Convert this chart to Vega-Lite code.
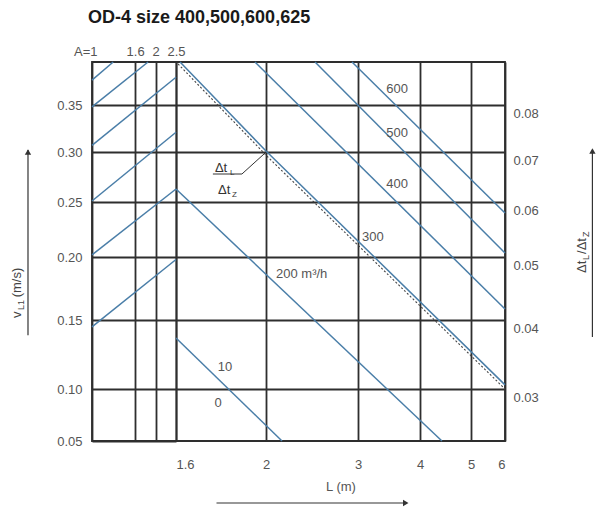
{
  "$schema": "https://vega.github.io/schema/vega-lite/v6.json",
  "width": 413,
  "height": 379,
  "autosize": {"type": "none"},
  "padding": {"left": 92, "top": 62, "right": 92, "bottom": 67},
  "background": "white",
  "title": {"text": "OD-4 size  400,500,600,625", "anchor": "start", "frame": "group", "fontSize": 18, "fontWeight": "bold", "color": "#1a1a1a", "offset": 18, "dx": -4},
  "config": {
    "font": "Liberation Sans, Arial, sans-serif",
    "view": {"stroke": "#2e2e2e", "strokeWidth": 1.8},
    "axis": {"labelColor": "#555555", "labelFontSize": 13, "gridColor": "#2e2e2e", "gridWidth": 1.8, "gridOpacity": 1, "ticks": false, "tickSize": 0, "domain": false, "titleColor": "#555555", "titleFontWeight": "normal", "titleFontSize": 13}
  },
  "datasets": {
    "aLines": [
      {"s": 1, "A": 1, "v": 0.376}, {"s": 1, "A": 1.26, "v": 0.395},
      {"s": 2, "A": 1, "v": 0.348}, {"s": 2, "A": 1.843, "v": 0.395},
      {"s": 3, "A": 1, "v": 0.307}, {"s": 3, "A": 2.5, "v": 0.379},
      {"s": 4, "A": 1, "v": 0.251}, {"s": 4, "A": 2.5, "v": 0.321},
      {"s": 5, "A": 1, "v": 0.202}, {"s": 5, "A": 2.5, "v": 0.263},
      {"s": 6, "A": 1, "v": 0.145}, {"s": 6, "A": 2.5, "v": 0.198}
    ],
    "leftTitle": [
      {"t": "v", "A": 0.461, "v": 0.1516, "fs": 13},
      {"t": "L1", "A": 0.476, "v": 0.158, "fs": 9},
      {"t": "(m/s)", "A": 0.461, "v": 0.168, "fs": 13}
    ],
    "leftArrow": [{"A": 0.4975, "v": 0.139, "v2": 0.302}],
    "leftHead": [{"A": 0.4975, "v": 0.300}],
    "flowLines": [
      {"s": "0", "L": 1.6, "v": 0.137}, {"s": "0", "L": 2.174, "v": 0.05},
      {"s": "200", "L": 1.6, "v": 0.263}, {"s": "200", "L": 4.43, "v": 0.05},
      {"s": "300", "L": 1.618, "v": 0.395}, {"s": "300", "L": 2.0, "v": 0.301}, {"s": "300", "L": 6, "v": 0.103},
      {"s": "400", "L": 1.951, "v": 0.395}, {"s": "400", "L": 6, "v": 0.1587},
      {"s": "500", "L": 2.533, "v": 0.395}, {"s": "500", "L": 6, "v": 0.2036},
      {"s": "600", "L": 2.935, "v": 0.395}, {"s": "600", "L": 6, "v": 0.24}
    ],
    "ratioLine": [
      {"L": 1.609, "v": 0.393}, {"L": 2.02, "v": 0.295}, {"L": 6, "v": 0.10}
    ],
    "leader": [
      {"L": 1.764, "v": 0.278}, {"L": 1.893, "v": 0.278}, {"L": 1.996, "v": 0.299}
    ],
    "flowLabels": [
      {"t": "600", "L": 3.63, "v": 0.367},
      {"t": "500", "L": 3.63, "v": 0.32},
      {"t": "400", "L": 3.63, "v": 0.268},
      {"t": "300", "L": 3.24, "v": 0.218},
      {"t": "10", "L": 1.818, "v": 0.116},
      {"t": "0", "L": 1.787, "v": 0.0865}
    ],
    "flowLabel200": [{"t": "200 m³/h", "L": 2.109, "v": 0.1865}],
    "deltaText": [
      {"t": "Δt", "L": 1.773, "v": 0.28, "fs": 13},
      {"t": "L", "L": 1.84, "v": 0.277, "fs": 8},
      {"t": "Δt", "L": 1.787, "v": 0.258, "fs": 13},
      {"t": "Z", "L": 1.849, "v": 0.255, "fs": 8}
    ],
    "bottomArrow": [{"L": 1.78, "L2": 3.79, "v": -0.0096}],
    "bottomHead": [{"L": 3.77, "v": -0.0096}],
    "rightTitle": [
      {"t": "Δt", "L": 8.37, "r": 0.04746, "fs": 13},
      {"t": "L", "L": 8.46, "r": 0.04952, "fs": 9},
      {"t": "/Δt", "L": 8.37, "r": 0.05055, "fs": 13},
      {"t": "Z", "L": 8.46, "r": 0.05364, "fs": 9}
    ],
    "rightArrow": [{"L": 8.571, "r": 0.03754, "r2": 0.0704}],
    "rightHead": [{"L": 8.571, "r": 0.0702}]
  },
  "layer": [
    {
      "encoding": {
        "x": {"field": "A", "type": "quantitative",
          "scale": {"type": "log", "domain": [1, 2.5], "range": [0, 84]},
          "axis": {"orient": "top", "values": [1, 1.6, 2, 2.5], "grid": true, "labelPadding": 4, "title": null,
            "labelExpr": "datum.value == 1 ? 'A=1' : format(datum.value, '~g')",
            "labelAlign": {"condition": {"test": "datum.value == 1", "value": "right"}, "value": "center"},
            "labelOffset": {"condition": {"test": "datum.value == 1", "value": 5}, "value": 0}}},
        "y": {"field": "v", "type": "quantitative",
          "scale": {"type": "linear", "domain": [0.05, 0.10, 0.15, 0.20, 0.25, 0.30, 0.35, 0.395], "range": [379, 327, 258, 195, 140, 90, 43, 0], "zero": false, "nice": false},
          "axis": {"orient": "left", "values": [0.05, 0.10, 0.15, 0.20, 0.25, 0.30, 0.35], "format": ".2f", "grid": true, "labelPadding": 10, "title": null}}
      },
      "layer": [
        {"data": {"name": "aLines"}, "mark": {"type": "line", "color": "#4a7ea8", "strokeWidth": 1.5}, "encoding": {"detail": {"field": "s", "type": "nominal"}}},
        {"data": {"name": "leftTitle"}, "mark": {"type": "text", "angle": 270, "align": "left", "baseline": "alphabetic", "color": "#444444"},
          "encoding": {"text": {"field": "t"}, "size": {"field": "fs", "type": "quantitative", "scale": null}}},
        {"data": {"name": "leftArrow"}, "mark": {"type": "rule", "color": "#333333", "strokeWidth": 1.2}, "encoding": {"y2": {"field": "v2"}}},
        {"data": {"name": "leftHead"}, "mark": {"type": "point", "shape": "triangle-up", "filled": true, "size": 40, "color": "#333333", "opacity": 1}}
      ]
    },
    {
      "encoding": {
        "x": {"field": "L", "type": "quantitative",
          "scale": {"type": "linear", "domain": [1.6, 2, 3, 4, 5, 6], "range": [84, 174, 266, 328, 379, 413], "zero": false, "nice": false},
          "axis": {"orient": "bottom", "values": [1.6, 2, 3, 4, 5, 6], "labelExpr": "format(datum.value, '~g')", "grid": true, "labelPadding": 17, "title": "L (m)", "titlePadding": 9}},
        "y": {"field": "v", "type": "quantitative",
          "scale": {"type": "linear", "domain": [0.05, 0.10, 0.15, 0.20, 0.25, 0.30, 0.35, 0.395], "range": [379, 327, 258, 195, 140, 90, 43, 0], "zero": false, "nice": false},
          "axis": {"orient": "left", "values": [0.10, 0.15, 0.20, 0.25, 0.30, 0.35], "grid": true, "labels": false, "title": null}}
      },
      "layer": [
        {"data": {"name": "flowLines"}, "mark": {"type": "line", "color": "#4a7ea8", "strokeWidth": 1.5}, "encoding": {"detail": {"field": "s", "type": "nominal"}}},
        {"data": {"name": "ratioLine"}, "mark": {"type": "line", "color": "#444444", "strokeWidth": 1.1, "strokeDash": [2, 2]}},
        {"data": {"name": "leader"}, "mark": {"type": "line", "color": "#333333", "strokeWidth": 1}},
        {"data": {"name": "flowLabels"}, "mark": {"type": "text", "align": "center", "baseline": "middle", "fontSize": 13, "color": "#555555"}, "encoding": {"text": {"field": "t"}}},
        {"data": {"name": "flowLabel200"}, "mark": {"type": "text", "align": "left", "baseline": "middle", "fontSize": 13, "color": "#555555"}, "encoding": {"text": {"field": "t"}}},
        {"data": {"name": "deltaText"}, "mark": {"type": "text", "align": "left", "baseline": "alphabetic", "color": "#333333"},
          "encoding": {"text": {"field": "t"}, "size": {"field": "fs", "type": "quantitative", "scale": null}}},
        {"data": {"name": "bottomArrow"}, "mark": {"type": "rule", "color": "#333333", "strokeWidth": 1.2}, "encoding": {"x2": {"field": "L2"}}},
        {"data": {"name": "bottomHead"}, "mark": {"type": "point", "shape": "triangle-right", "filled": true, "size": 40, "color": "#333333", "opacity": 1}}
      ]
    },
    {
      "encoding": {
        "x": {"field": "L", "type": "quantitative",
          "scale": {"type": "linear", "domain": [1.6, 2, 3, 4, 5, 6], "range": [84, 174, 266, 328, 379, 413], "zero": false, "nice": false},
          "axis": null},
        "y": {"field": "r", "type": "quantitative",
          "scale": {"type": "linear", "domain": [0.03, 0.04, 0.05, 0.06, 0.07, 0.08], "range": [327, 258, 195, 140, 90, 43], "zero": false, "nice": false},
          "axis": {"orient": "right", "values": [0.03, 0.04, 0.05, 0.06, 0.07, 0.08], "format": ".2f", "grid": false, "labelPadding": 8, "labelOffset": 8, "title": null}}
      },
      "layer": [
        {"data": {"name": "rightTitle"}, "mark": {"type": "text", "angle": 270, "align": "left", "baseline": "alphabetic", "color": "#444444"},
          "encoding": {"text": {"field": "t"}, "size": {"field": "fs", "type": "quantitative", "scale": null}}},
        {"data": {"name": "rightArrow"}, "mark": {"type": "rule", "color": "#333333", "strokeWidth": 1.2}, "encoding": {"y2": {"field": "r2"}}},
        {"data": {"name": "rightHead"}, "mark": {"type": "point", "shape": "triangle-up", "filled": true, "size": 40, "color": "#333333", "opacity": 1}}
      ]
    }
  ],
  "resolve": {"scale": {"x": "independent", "y": "independent"}}
}
